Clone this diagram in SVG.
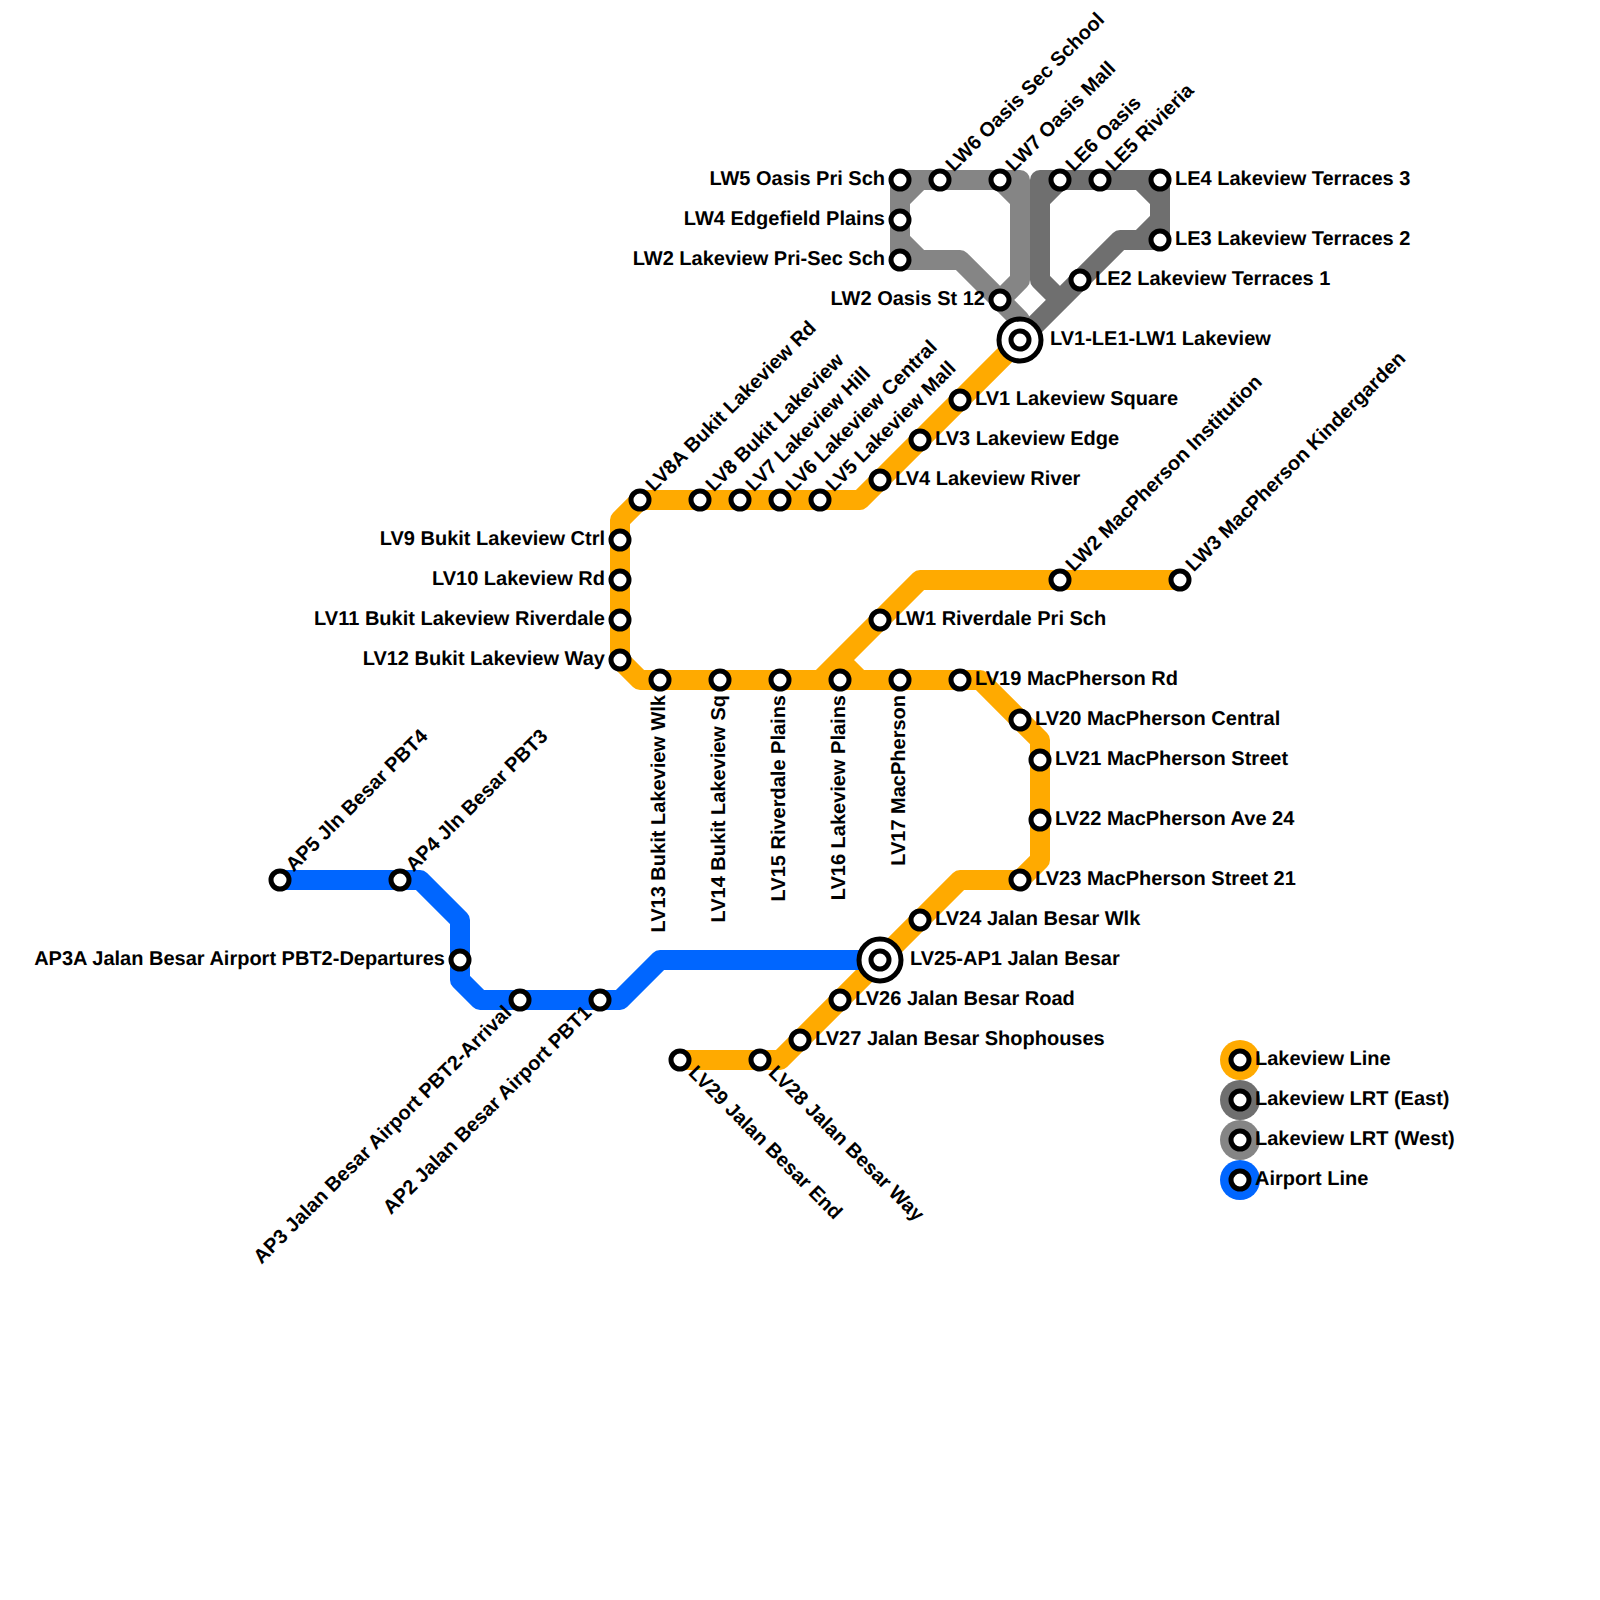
<svg xmlns="http://www.w3.org/2000/svg" width="1600" height="1600" viewBox="0 0 1600 1600">
<style>
text{font-family:"Liberation Sans",Arial,sans-serif;font-size:20px;font-weight:bold;fill:#000;text-rendering:geometricPrecision}
.e{text-anchor:end}
.l{fill:none;stroke-width:20;stroke-linejoin:round}
.o{stroke:#ffaa00}.g{stroke:#6f6f6f}.w{stroke:#858585}.b{stroke:#0066ff}
.s{fill:#fff;stroke:#000;stroke-width:5}
</style>
<rect width="1600" height="1600" fill="#fff"/>
<g id="connectors">
<path class="l w" d="M1020 340V320L960 260H900V180H1020V280L1000 300M900 220V200L920 180M900 220V240L920 260M1000 180L1020 200"/>
<path class="l g" d="M1160 180H1040V280L1060 300M1040 200L1060 180M1140 180L1160 200V220L1140 240M1160 180V240H1120L1020 340"/>
<path class="l o" d="M1020 340L860 500H640L620 520V660L640 680H820L920 580H1180M800 680H980L1040 740V860L1020 880H960L780 1060H680M840 660L860 680"/>
<path class="l b" d="M280 880H420L460 920V980L480 1000H620L660 960H880"/>
</g>
<g id="stations">
<g id="LW5"><circle class="s" cx="900" cy="180" r="9"/><text class="e" transform="translate(900 180)" x="-15" y="4.5">LW5 Oasis Pri Sch</text></g>
<g id="LW4"><circle class="s" cx="900" cy="220" r="9"/><text class="e" transform="translate(900 220)" x="-15" y="4.5">LW4 Edgefield Plains</text></g>
<g id="LW2P"><circle class="s" cx="900" cy="260" r="9"/><text class="e" transform="translate(900 260)" x="-15" y="4.5">LW2 Lakeview Pri-Sec Sch</text></g>
<g id="LW2O"><circle class="s" cx="1000" cy="300" r="9"/><text class="e" transform="translate(1000 300)" x="-15" y="4.5">LW2 Oasis St 12</text></g>
<g id="LV9"><circle class="s" cx="620" cy="540" r="9"/><text class="e" transform="translate(620 540)" x="-15" y="4.5">LV9 Bukit Lakeview Ctrl</text></g>
<g id="LV10"><circle class="s" cx="620" cy="580" r="9"/><text class="e" transform="translate(620 580)" x="-15" y="4.5">LV10 Lakeview Rd</text></g>
<g id="LV11"><circle class="s" cx="620" cy="620" r="9"/><text class="e" transform="translate(620 620)" x="-15" y="4.5">LV11 Bukit Lakeview Riverdale</text></g>
<g id="LV12"><circle class="s" cx="620" cy="660" r="9"/><text class="e" transform="translate(620 660)" x="-15" y="4.5">LV12 Bukit Lakeview Way</text></g>
<g id="AP3A"><circle class="s" cx="460" cy="960" r="9"/><text class="e" transform="translate(460 960)" x="-15" y="4.5">AP3A Jalan Besar Airport PBT2-Departures</text></g>

<g id="LW6"><circle class="s" cx="940" cy="180" r="9"/><text transform="translate(940 180) rotate(-45)" x="15" y="4.5">LW6 Oasis Sec School</text></g>
<g id="LW7"><circle class="s" cx="1000" cy="180" r="9"/><text transform="translate(1000 180) rotate(-45)" x="15" y="4.5">LW7 Oasis Mall</text></g>
<g id="LE6"><circle class="s" cx="1060" cy="180" r="9"/><text transform="translate(1060 180) rotate(-45)" x="15" y="4.5">LE6 Oasis</text></g>
<g id="LE5"><circle class="s" cx="1100" cy="180" r="9"/><text transform="translate(1100 180) rotate(-45)" x="15" y="4.5">LE5 Rivieria</text></g>
<g id="LV8A"><circle class="s" cx="640" cy="500" r="9"/><text transform="translate(640 500) rotate(-45)" x="15" y="4.5">LV8A Bukit Lakeview Rd</text></g>
<g id="LV8"><circle class="s" cx="700" cy="500" r="9"/><text transform="translate(700 500) rotate(-45)" x="15" y="4.5">LV8 Bukit Lakeview</text></g>
<g id="LV7"><circle class="s" cx="740" cy="500" r="9"/><text transform="translate(740 500) rotate(-45)" x="15" y="4.5">LV7 Lakeview Hill</text></g>
<g id="LV6"><circle class="s" cx="780" cy="500" r="9"/><text transform="translate(780 500) rotate(-45)" x="15" y="4.5">LV6 Lakeview Central</text></g>
<g id="LV5"><circle class="s" cx="820" cy="500" r="9"/><text transform="translate(820 500) rotate(-45)" x="15" y="4.5">LV5 Lakeview Mall</text></g>
<g id="LW2M"><circle class="s" cx="1060" cy="580" r="9"/><text transform="translate(1060 580) rotate(-45)" x="15" y="4.5">LW2 MacPherson Institution</text></g>
<g id="LW3M"><circle class="s" cx="1180" cy="580" r="9"/><text transform="translate(1180 580) rotate(-45)" x="15" y="4.5">LW3 MacPherson Kindergarden</text></g>
<g id="AP5"><circle class="s" cx="280" cy="880" r="9"/><text transform="translate(280 880) rotate(-45)" x="15" y="4.5">AP5 Jln Besar PBT4</text></g>
<g id="AP4"><circle class="s" cx="400" cy="880" r="9"/><text transform="translate(400 880) rotate(-45)" x="15" y="4.5">AP4 Jln Besar PBT3</text></g>

<g id="LE4"><circle class="s" cx="1160" cy="180" r="9"/><text x="1175" y="184.5">LE4 Lakeview Terraces 3</text></g>
<g id="LE3"><circle class="s" cx="1160" cy="240" r="9"/><text x="1175" y="244.5">LE3 Lakeview Terraces 2</text></g>
<g id="LE2"><circle class="s" cx="1080" cy="280" r="9"/><text x="1095" y="284.5">LE2 Lakeview Terraces 1</text></g>
<g id="LV1"><circle class="s" cx="960" cy="400" r="9"/><text x="975" y="404.5">LV1 Lakeview Square</text></g>
<g id="LV3"><circle class="s" cx="920" cy="440" r="9"/><text x="935" y="444.5">LV3 Lakeview Edge</text></g>
<g id="LV4"><circle class="s" cx="880" cy="480" r="9"/><text x="895" y="484.5">LV4 Lakeview River</text></g>
<g id="LW1"><circle class="s" cx="880" cy="620" r="9"/><text x="895" y="624.5">LW1 Riverdale Pri Sch</text></g>
<g id="LV19"><circle class="s" cx="960" cy="680" r="9"/><text x="975" y="684.5">LV19 MacPherson Rd</text></g>
<g id="LV20"><circle class="s" cx="1020" cy="720" r="9"/><text x="1035" y="724.5">LV20 MacPherson Central</text></g>
<g id="LV21"><circle class="s" cx="1040" cy="760" r="9"/><text x="1055" y="764.5">LV21 MacPherson Street</text></g>
<g id="LV22"><circle class="s" cx="1040" cy="820" r="9"/><text x="1055" y="824.5">LV22 MacPherson Ave 24</text></g>
<g id="LV23"><circle class="s" cx="1020" cy="880" r="9"/><text x="1035" y="884.5">LV23 MacPherson Street 21</text></g>
<g id="LV24"><circle class="s" cx="920" cy="920" r="9"/><text x="935" y="924.5">LV24 Jalan Besar Wlk</text></g>
<g id="LV26"><circle class="s" cx="840" cy="1000" r="9"/><text x="855" y="1004.5">LV26 Jalan Besar Road</text></g>
<g id="LV27"><circle class="s" cx="800" cy="1040" r="9"/><text x="815" y="1044.5">LV27 Jalan Besar Shophouses</text></g>

<g id="LV13"><circle class="s" cx="660" cy="680" r="9"/><text class="e" transform="translate(660 680) rotate(-90)" x="-15" y="4.5">LV13 Bukit Lakeview Wlk</text></g>
<g id="LV14"><circle class="s" cx="720" cy="680" r="9"/><text class="e" transform="translate(720 680) rotate(-90)" x="-15" y="4.5">LV14 Bukit Lakeview Sq</text></g>
<g id="LV15"><circle class="s" cx="780" cy="680" r="9"/><text class="e" transform="translate(780 680) rotate(-90)" x="-15" y="4.5">LV15 Riverdale Plains</text></g>
<g id="LV16"><circle class="s" cx="840" cy="680" r="9"/><text class="e" transform="translate(840 680) rotate(-90)" x="-15" y="4.5">LV16 Lakeview Plains</text></g>
<g id="LV17"><circle class="s" cx="900" cy="680" r="9"/><text class="e" transform="translate(900 680) rotate(-90)" x="-15" y="4.5">LV17 MacPherson</text></g>

<g id="AP3"><circle class="s" cx="520" cy="1000" r="9"/><text class="e" transform="translate(520 1000) rotate(-45)" x="-15" y="4.5">AP3 Jalan Besar Airport PBT2-Arrival</text></g>
<g id="AP2"><circle class="s" cx="600" cy="1000" r="9"/><text class="e" transform="translate(600 1000) rotate(-45)" x="-15" y="4.5">AP2 Jalan Besar Airport PBT1</text></g>
<g id="LV29"><circle class="s" cx="680" cy="1060" r="9"/><text transform="translate(680 1060) rotate(45)" x="15" y="4.5">LV29 Jalan Besar End</text></g>
<g id="LV28"><circle class="s" cx="760" cy="1060" r="9"/><text transform="translate(760 1060) rotate(45)" x="15" y="4.5">LV28 Jalan Besar Way</text></g>

<g id="LV1-LE1-LW1"><circle class="s" cx="1020" cy="340" r="21"/><circle class="s" cx="1020" cy="340" r="9"/><text x="1050" y="344.5">LV1-LE1-LW1 Lakeview</text></g>
<g id="LV25-AP1"><circle class="s" cx="880" cy="960" r="21"/><circle class="s" cx="880" cy="960" r="9"/><text x="910" y="964.5">LV25-AP1 Jalan Besar</text></g>
</g>
<g id="legend">
<g id="legend-lakeview"><circle cx="1240" cy="1060" r="20" fill="#ffaa00"/><circle class="s" cx="1240" cy="1060" r="9"/><text x="1255" y="1064.5">Lakeview Line</text></g>
<g id="legend-east"><circle cx="1240" cy="1100" r="20" fill="#6f6f6f"/><circle class="s" cx="1240" cy="1100" r="9"/><text x="1255" y="1104.5">Lakeview LRT (East)</text></g>
<g id="legend-west"><circle cx="1240" cy="1140" r="20" fill="#858585"/><circle class="s" cx="1240" cy="1140" r="9"/><text x="1255" y="1144.5">Lakeview LRT (West)</text></g>
<g id="legend-airport"><circle cx="1240" cy="1180" r="20" fill="#0066ff"/><circle class="s" cx="1240" cy="1180" r="9"/><text x="1255" y="1184.5">Airport Line</text></g>
</g>
</svg>
